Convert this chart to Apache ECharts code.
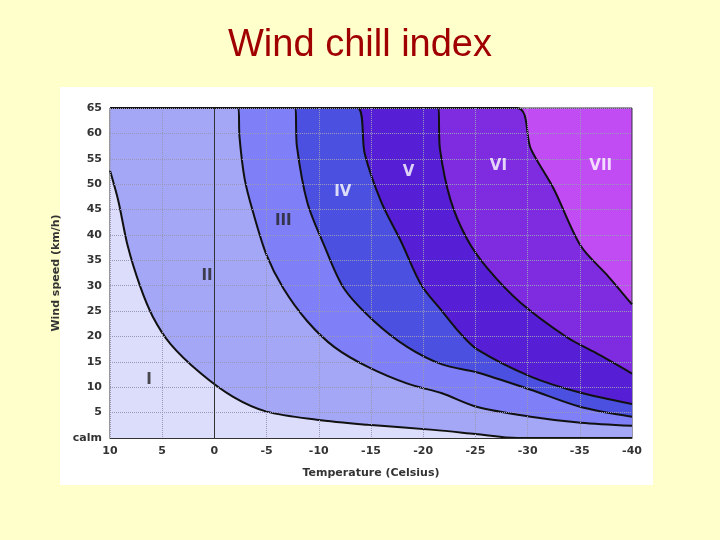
<!DOCTYPE html>
<html>
<head>
<meta charset="utf-8">
<script src="https://cdn.jsdelivr.net/npm/echarts@6/dist/echarts.min.js"></script>
<style>
  body { margin: 0; background: #ffffcc; }
  #panel { position: absolute; left: 60px; top: 87px; width: 593px; height: 398px; background: #fff; }
  #chart { position: absolute; left: 0; top: 0; width: 720px; height: 540px; }
</style>
</head>
<body>
<div id="panel"></div>
<div id="chart"></div>
<script>
// boundaries between zones: [temperature °C, wind speed km/h]
const curveI = [[10, 52.7], [9.2, 46.7], [8.3, 37.8], [7.1, 29.8], [5.9, 23.9], [4.2, 18.5], [1.4, 12.9], [-1.8, 8.1], [-5, 5.2], [-9.8, 3.6], [-14.7, 2.6], [-21, 1.6], [-25, 0.8], [-29, 0], [-40, 0]];
const curveII = [[10, 65], [-2.3, 65], [-2.4, 59.4], [-2.9, 51], [-3.7, 44.5], [-5, 36], [-6.6, 29.5], [-8.9, 23], [-11.5, 17.9], [-14.7, 14], [-18.5, 10.7], [-21.8, 8.8], [-25.2, 6.1], [-30.3, 4.2], [-35.1, 3], [-40, 2.4]];
const curveIII = [[10, 65], [-7.7, 65], [-7.9, 57.5], [-8.9, 46.4], [-10.5, 38], [-12.4, 29.5], [-15.3, 23], [-18.5, 17.9], [-21.8, 14.5], [-25.2, 12.9], [-30.3, 9.5], [-35.1, 6.1], [-40, 4.2]];
const curveIV = [[10, 65], [-13.7, 65], [-14.4, 56], [-16, 46.4], [-17.9, 38.6], [-19.8, 30.2], [-21.8, 25], [-23.6, 20.5], [-25.2, 17.4], [-30.3, 12.1], [-35.1, 8.9], [-40, 6.7]];
const curveV = [[10, 65], [-21.4, 65], [-21.6, 57], [-22.6, 47], [-24.2, 39.2], [-26.2, 33.3], [-29.3, 26.7], [-33.8, 19.8], [-36.5, 16.8], [-40, 12.7]];
const curveVI = [[10, 65], [-29, 65], [-30.3, 57], [-32.5, 49.1], [-35.1, 37.8], [-37.7, 31.9], [-40, 26.3]];

const zoneNames = ['I', 'II', 'III', 'IV', 'V', 'VI', 'VII'];
const zoneLabelPos = [[6.25, 11.5], [0.7, 31.9], [-6.6, 42.8], [-12.3, 48.5], [-18.6, 52.3], [-27.2, 53.5], [-37, 53.5]];
const zoneColors = ['#dcdcfb', '#a4a6f6', '#7f7ff8', '#4b50e0', '#561fd6', '#7f2be0', '#c24cf4'];
const zoneTextColors = ['#222', '#222', '#222', '#fff', '#fff', '#fff', '#fff'];

const chart = echarts.init(document.getElementById('chart'));

const curves = [curveVI, curveV, curveIV, curveIII, curveII, curveI];
const curveSeries = curves.map((d, i) => ({
    type: 'line',
    data: d,
    symbol: 'none',
    smooth: 0.3,
    lineStyle: { color: '#111', width: 2 },
    areaStyle: { color: zoneColors[5 - i], opacity: 1 },
    z: 2 + i
}));

const axisText = { color: '#333', fontWeight: 'bold', fontSize: 11, fontFamily: 'DejaVu Sans' };

chart.setOption({
    title: {
        text: 'Wind chill index',
        left: 'center',
        top: 22,
        textStyle: { color: '#a00000', fontSize: 38, fontWeight: 'normal', fontFamily: 'Liberation Sans' }
    },
    grid: {
        left: 110, right: 88, top: 108, bottom: 102,
        show: true, backgroundColor: zoneColors[6], borderColor: '#333', borderWidth: 1
    },
    xAxis: {
        type: 'value', inverse: true, min: -40, max: 10, interval: 5,
        name: 'Temperature (Celsius)', nameLocation: 'middle', nameGap: 30,
        nameTextStyle: axisText,
        axisLine: { lineStyle: { color: '#333' } },
        axisTick: { show: false },
        axisLabel: axisText,
        splitLine: { lineStyle: { color: '#9a98b8', width: 1, type: 'dotted' } },
        z: 10
    },
    yAxis: {
        type: 'value', min: 0, max: 65, interval: 5,
        name: 'Wind speed (km/h)', nameLocation: 'middle', nameGap: 32,
        nameTextStyle: axisText,
        axisLine: { lineStyle: { color: '#333' } },
        axisTick: { show: false },
        axisLabel: Object.assign({ formatter: v => v === 0 ? 'calm' : v }, axisText),
        splitLine: { lineStyle: { color: '#9a98b8', width: 1, type: 'dotted' } },
        z: 10
    },
    series: curveSeries.concat([{
        type: 'scatter',
        symbolSize: 0,
        z: 20,
        data: zoneLabelPos.map((p, i) => ({
            value: p,
            label: {
                show: true, position: 'inside', formatter: zoneNames[i],
                color: zoneTextColors[i], fontSize: 15, fontWeight: 'bold', fontFamily: 'DejaVu Sans'
            }
        }))
    }]),
    animation: false
});
</script>
</body>
</html>
